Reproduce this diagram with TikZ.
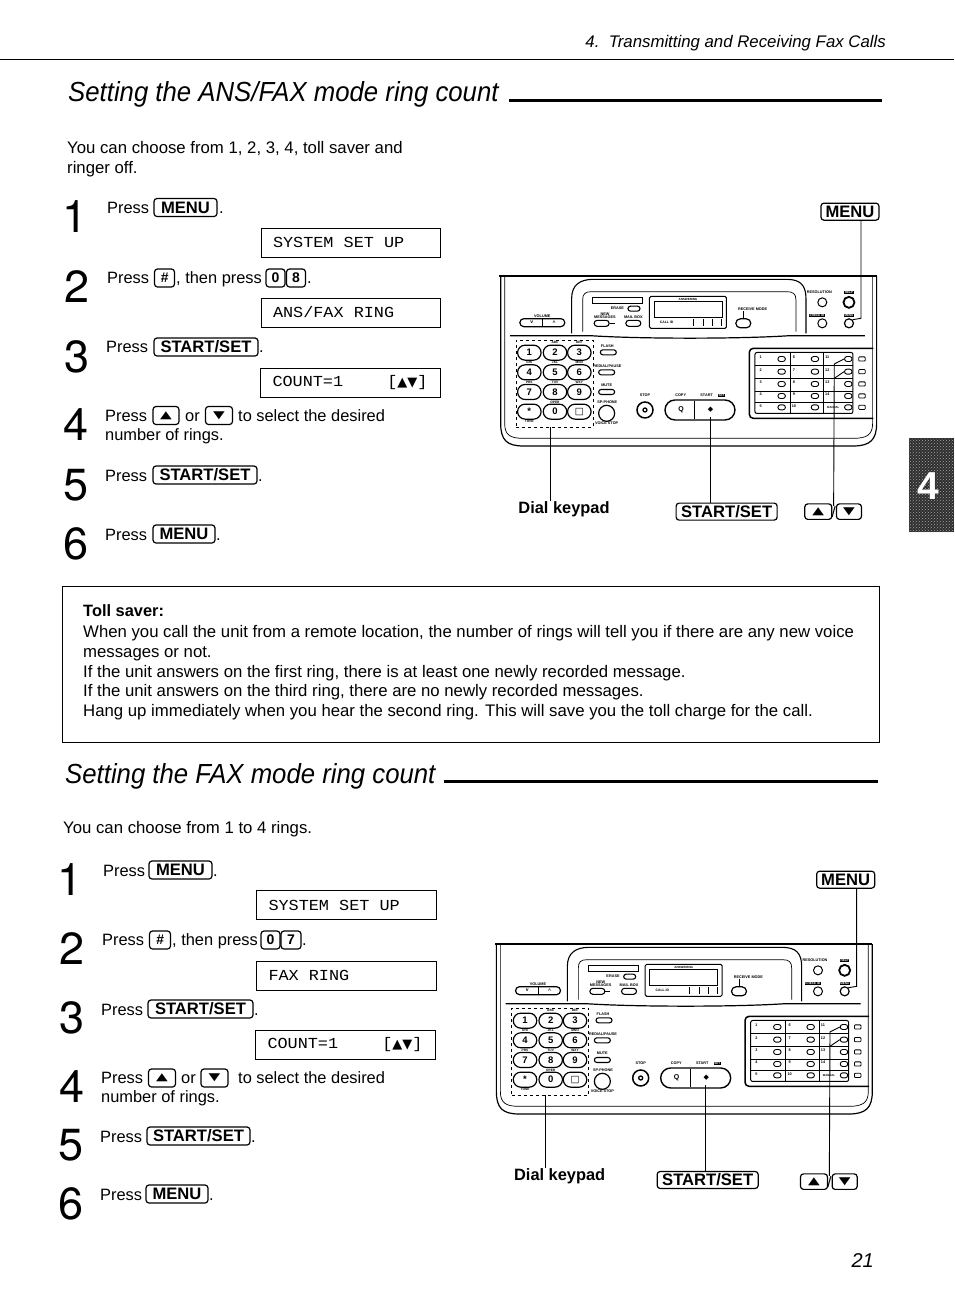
\documentclass[tikz,border=0pt]{standalone}
\usepackage{fontspec}
\setmainfont{Liberation Sans}
\newfontfamily\lcdfont[FakeStretch=1.1]{Liberation Mono}
\newfontfamily\symfont{DejaVu Sans}
\newfontfamily\heros{TeX Gyre Heros}
\newfontfamily\titlefont[FakeStretch=0.933]{Liberation Sans}
\usetikzlibrary{shapes.misc,shapes.geometric,patterns}
\newcommand{\fsz}[1]{\fontsize{#1}{#1}\selectfont}
\newcommand{\uptri}{\scalebox{1.45}[1]{\symfont\fsz{10.5}▲}}
\newcommand{\dntri}{\scalebox{1.45}[1]{\symfont\fsz{10.5}▼}}
\newcommand{\lcdsp}{\hspace{10.1pt}}
\newcommand{\lcdtri}{{\symfont\fsz{13}▲▼}}
\tikzset{
  txt/.style={anchor=base west,inner sep=0pt,font=\fsz{16.4}},
  para/.style={anchor=base west,inner sep=0pt,font=\fsz{16.75}},
  bignum/.style={inner sep=0pt,font=\heros\fsz{45}},
  keybox/.style={draw,line width=1.2pt,rounded corners=3pt,inner sep=0pt,minimum height=18pt,font=\bfseries\fsz{16.6}},
  lcdbox/.style={draw,line width=1pt,minimum height=29pt,minimum width=179pt,inner sep=0pt,text width=155pt,align=left,font=\lcdfont\fsz{15.3}},
  title/.style={anchor=base west,inner sep=0pt,font=\titlefont\itshape\fsz{27.6}},
  pill/.style={draw,rounded rectangle,inner sep=0pt,line width=1.1pt},
  numkey/.style={pill,line width=1.2pt,minimum width=23.5pt,minimum height=15pt,font=\bfseries\fsz{9.5}},
  smallpill/.style={pill,minimum width=15pt,minimum height=5pt},
  ring/.style={draw,circle,inner sep=0pt,line width=1pt},
  tiny/.style={inner sep=0pt,font=\bfseries\fsz{3.8}},
  inv/.style={fill=black,text=white,inner sep=.6pt,font=\bfseries\fsz{3}},
  lead/.style={line width=.9pt},
  biglabel/.style={draw,line width=1.2pt,rounded corners=3pt,inner sep=0pt,minimum height=17pt,font=\bfseries\fsz{16.6}},
}
% #1,#2 panel origin  #3 prefix  #4,#5 START/SET label  #6 dial label y  #7 arrow keys y
\newcommand{\faxpanel}[7]{
\begin{scope}[shift={(#1pt,-#2pt)},x=.3333pt,y=-.3333pt]
  % casing
  \draw[line width=1.2pt] (28,258)--(1160,258);
  \draw[line width=1.2pt] (32,258)--(32,700) .. controls (32,750) and (50,768) .. (100,768)--(1090,768) .. controls (1140,768) and (1160,750) .. (1160,700)--(1160,258);
  \draw[line width=.7pt] (44,258)--(44,700) .. controls (44,735) and (60,745) .. (100,745)--(1090,745) .. controls (1130,745) and (1148,735) .. (1148,700)--(1148,258);
  \draw[line width=1.2pt] (60,437)--(300,437) .. controls (450,447) and (750,447) .. (900,437)--(1125,437);
  % display hump
  \draw[line width=1.1pt] (245,430)--(245,325) .. controls (245,285) and (270,268) .. (310,268)--(890,268) .. controls (930,268) and (948,285) .. (948,325)--(948,430);
  \draw[line width=.7pt] (278,425)--(278,330) .. controls (278,312) and (285,305) .. (305,305)--(890,305) .. controls (910,305) and (918,312) .. (918,330)--(918,425);
  \node[draw,line width=.7pt,minimum width=50pt,minimum height=6pt,inner sep=0pt] (#3bar) at (382,332) {};
  % volume
  \node[tiny] (#3vollab) at (157,378) {VOLUME};
  \node[pill,line width=1.2pt,minimum width=45pt,minimum height=8pt,font=\bfseries\fsz{5}] (#3vol) at (157,398) {};
  \draw[line width=.8pt] (#3vol.north) -- (#3vol.south);
  \node[inner sep=0pt,font=\bfseries\fsz{5}] (#3vold) at (125,398) {v};
  \node[inner sep=0pt,font=\bfseries\fsz{5}] (#3volu) at (192,397) {\^{}};
  % message keys
  \node[tiny] (#3eralab) at (382,356) {ERASE};
  \node[smallpill,minimum width=12pt] (#3era) at (432,356) {};
  \node[tiny,align=center] (#3newlab) at (345,378) {NEW\\[-1pt]MESSAGES};
  \node[smallpill,minimum height=6pt] (#3new) at (335,400) {};
  \node[tiny] (#3mailab) at (430,381) {MAIL BOX};
  \node[smallpill,minimum height=6pt] (#3mai) at (430,400) {};
  \draw[line width=.6pt] (#3new.east) -- ++(15,0);
  % LCD
  \node[draw,line width=1pt,rounded corners=1.5pt,minimum width=77pt,minimum height=32pt,inner sep=0pt] (#3lcd) at (594,367) {};
  \node[draw,line width=.7pt,minimum width=68pt,minimum height=15.5pt,inner sep=0pt] (#3lcdin) at (594,358) {};
  \node[tiny,font=\bfseries\fsz{3}] (#3lcdlab) at (594,328) {ANSWERING};
  \node[tiny,font=\bfseries\fsz{3.4}] (#3call) at (530,398) {CALL ID};
  \foreach \xx in {610,640,668,695} \draw[line width=.6pt] (\xx,388)--(\xx,408);
  % receive mode
  \node[tiny] (#3rclab) at (788,358) {RECEIVE MODE};
  \node[smallpill,minimum height=9pt,line width=1.2pt] (#3rc) at (760,400) {};
  \draw[line width=.7pt] (#3rc.north) -- ++(0,-22);
  % right buttons
  \node[tiny] (#3reslab) at (988,308) {RESOLUTION};
  \node[ring,minimum size=9pt] (#3res) at (997,337) {};
  \node[inv] (#3help) at (1077,308) {HELP};
  \node[ring,line width=1.8pt,minimum size=11pt] (#3hb) at (1077,337) {};
  \node[inv] (#3chk) at (981,377) {CHECK ID};
  \node[ring,minimum size=9pt] (#3chb) at (997,400) {};
  \node[inv] (#3mnu) at (1077,377) {MENU};
  \node[ring,line width=1.2pt,minimum size=9pt] (#3mb) at (1077,400) {};
  % dial keypad
  \node[draw,dashed,line width=1pt,minimum width=77pt,minimum height=87pt,inner sep=0pt] (#3dial) at (194,581) {};
  \foreach \nm/\xx/\yy/\tx in {1/118/488/1,2/195/488/2,3/268/488/3,4/118/547/4,5/195/547/5,6/268/547/6,7/118/606/7,8/195/606/8,9/268/606/9,s/118/665/*,0/195/665/0,h/268/665/{\symfont □}}
    \node[numkey] (#3k\nm) at (\xx,\yy) {\tx};
  \foreach \xx/\yy/\tx in {195/457/ABC,268/457/DEF,118/518/GHI,195/518/JKL,268/518/MNO,118/578/PRS,195/578/TUV,268/578/WXY,195/638/OPER,118/693/TONE}
    \node[tiny,font=\bfseries\fsz{3.2}] at (\xx,\yy) {\tx};
  \node[tiny] (#3fllab) at (352,468) {FLASH};
  \node[smallpill,minimum width=16pt] (#3fl) at (355,487) {};
  \node[tiny] (#3rdlab) at (352,528) {REDIAL/PAUSE};
  \node[smallpill,minimum width=16pt] (#3rd) at (350,547) {};
  \node[tiny] (#3mtlab) at (350,587) {MUTE};
  \node[smallpill,minimum width=16pt] (#3mt) at (350,606) {};
  \node[tiny] (#3splab) at (352,636) {SP-PHONE};
  \node[ring,line width=1.2pt,minimum size=16pt] (#3sp) at (350,670) {};
  \node[tiny] (#3vslab) at (350,700) {VOICE STOP};
  % stop / copy / start
  \node[tiny] (#3stlab) at (465,617) {STOP};
  \node[ring,line width=1.5pt,minimum size=16pt] (#3stop) at (465,660) {};
  \node[ring,line width=1.3pt,minimum size=4pt] (#3stopd) at (465,660) {};
  \node[tiny] (#3cplab) at (572,617) {COPY};
  \node[tiny] (#3salab) at (650,617) {START};
  \node[inv] (#3set) at (695,617) {SET};
  \node[pill,line width=1.4pt,minimum width=70pt,minimum height=20pt] (#3big) at (630,660) {};
  \draw[line width=1pt] (615,632)--(615,688);
  \node[inner sep=0pt,font=\bfseries\fsz{7}] (#3cpk) at (573,660) {Q};
  \node[inner sep=0pt,font=\symfont\fsz{7}] (#3sak) at (662,660) {◆};
  % one-touch panel
  \draw[line width=1.5pt,rounded corners=4pt] (1150,475)--(778,475)--(778,685)--(1150,685);
  \node[draw,line width=1pt,rounded corners=2pt,minimum width=98pt,minimum height=61pt,inner sep=0pt] (#3otp) at (942,579) {};
  \draw[line width=.7pt] (900,488)--(900,670) (1000,488)--(1000,670);
  \foreach \yy in {525,565,603,637} \draw[line width=.7pt] (795,\yy)--(1090,\yy);
  \foreach \cc/\xx in {a/875,b/975,c/1075} \foreach \rr/\yy in {1/507,2/545,3/582,4/618,5/652}
    \node[pill,fill=white,line width=.9pt,minimum width=7.5pt,minimum height=5pt] (#3o\cc\rr) at (\xx,\yy) {};
  \foreach \yy/\nn in {503/1,541/2,578/3,614/4,648/5} \node[tiny] at (812,\yy) {\nn};
  \foreach \yy/\nn in {503/6,541/7,578/8,614/9,648/10} \node[tiny] at (912,\yy) {\nn};
  \foreach \yy/\nn in {503/11,541/12,578/13,614/14} \node[tiny] at (1012,\yy) {\nn};
  \foreach \rr/\yy in {1/507,2/545,3/582,4/618,5/652} \node[draw,rounded corners=.8pt,line width=.8pt,minimum width=6.5pt,minimum height=4.2pt,inner sep=0pt] (#3ic\rr) at (1116,\yy) {};
  \node[tiny,font=\bfseries\fsz{2.8}] at (1030,652) {MANUAL};
  % external labels
  \node[biglabel,minimum width=58pt] (#3lmenu) at (1080,65) {MENU};
  \node[biglabel,minimum width=101pt] (#3lstart) at (#4,#5) {START/SET};
  \node[inner sep=0pt,font=\bfseries\fsz{16.4}] (#3ldial) at (222,#6) {Dial keypad};
  \node[keybox,minimum width=27pt,minimum height=15.5pt] (#3lup) at (985,#7) {\uptri};
  \node[keybox,minimum width=25pt,minimum height=15.5pt] (#3ldn) at (1077,#7) {\dntri};
  \node[inner sep=0pt,font=\fsz{15}] (#3lsl) at (1031,#7) {/};
  \coordinate (#3a) at (1033,522);
  \coordinate (#3b) at (1033,565);
  \coordinate (#3m) at (1113,385);
  \coordinate (#3sx) at (660,680);
  \coordinate (#3dx) at (180,712);
  % leaders
  \draw[lead] (#3lmenu.south -| #3m) -- (#3m) -- (#3mb.north east);
  \draw[lead] (#3ldial.north -| #3dx) -- (#3dx);
  \draw[lead] (#3lstart.north -| #3sx) -- (#3sx);
  \draw[lead] (#3lsl.north) -- (#3a) -- (#3oc1.west);
  \draw[lead] (#3b) -- (#3oc2.west);
\end{scope}}
\begin{document}
\begin{tikzpicture}[x=1pt,y=-1pt]
\useasboundingbox (0,0) rectangle (954,1294);
% header
\draw[line width=1.6pt] (0,59.5)--(954,59.5);
\node[anchor=base east,inner sep=0pt,font=\itshape\fsz{16.8}] (hdr) at (886,47) {4.\ \ Transmitting and Receiving Fax Calls};
% section 1
\node[title] (t1) at (68,101) {Setting the ANS/FAX mode ring count};
\coordinate (t1e) at (882,100);
\draw[line width=3pt] ([xshift=10pt]t1.base east |- t1e) -- (t1e);
\node[para] (i1a) at (67,153) {You can choose from 1, 2, 3, 4, toll saver and};
\node[para] (i1b) at (67,173) {ringer off.};
\foreach \nn/\xx/\yy in {1/75/217,2/77/287,3/77/357,4/76/425,5/76/485,6/76/544} \node[bignum] (a\nn) at (\xx,\yy) {\nn};
\foreach \nm/\xx/\yy in {p1/107/213,p2/107/283,p3/106/352,p4/105/421,p5/105/481,p6/105/540}
  \node[txt] (a\nm) at (\xx,\yy) {Press};
\node[keybox,minimum width=63pt] (am1) at (185.5,207.5) {MENU};
\node[txt] at (219,213) {.};
\node[keybox,minimum width=20pt,font=\bfseries\itshape\fsz{14}] (ah) at (164.5,278) {\#};
\node[txt] at (176,283) {, then press};
\node[keybox,minimum width=19pt,font=\bfseries\fsz{14}] (a0) at (275.5,278) {0};
\node[keybox,minimum width=19pt,font=\bfseries\fsz{14}] (a8) at (296,278) {8};
\node[txt] at (307,283) {.};
\node[keybox,minimum width=104pt] (as1) at (206,347) {START/SET};
\node[txt] at (259,352) {.};
\node[keybox,minimum width=26pt] (au) at (166,415.5) {\uptri};
\node[txt] at (185,421) {or};
\node[keybox,minimum width=27pt] (ad) at (219,415.5) {\dntri};
\node[txt] at (238,421) {to select the desired};
\node[txt] at (105,440) {number of rings.};
\node[keybox,minimum width=104pt] (as2) at (205,475) {START/SET};
\node[txt] at (258,481) {.};
\node[keybox,minimum width=62pt] (am2) at (184,534) {MENU};
\node[txt] at (216,540) {.};
\node[lcdbox] (l1) at (350.5,242.5) {SYSTEM\lcdsp SET\lcdsp UP};
\node[lcdbox] (l2) at (350.5,312.5) {ANS/FAX\lcdsp RING};
\node[lcdbox,minimum width=180pt] (l3) at (350,382.5) {COUNT=1\hfill[\lcdtri]\hspace{-8pt}};
\faxpanel{490}{190}{f}{710}{965}{958}{965}
% chapter tab
\node[fill=black!82,postaction={pattern=crosshatch dots,pattern color=black!35},minimum width=45pt,minimum height=94pt,inner sep=0pt] (tab) at (931.5,485) {};
\node[inner sep=0pt,text=white,font=\bfseries\fsz{39}] (tabn) at (928,486) {4};
% toll saver box
\node[draw,line width=1pt,minimum width=817pt,minimum height=156pt,inner sep=0pt] (toll) at (470.5,664) {};
\node[para,font=\bfseries\fsz{16.4}] at (83,616) {Toll saver:};
\node[para] at (83,637) {When you call the unit from a remote location, the number of rings will tell you if there are any new voice};
\node[para] at (83,657) {messages or not.};
\node[para] at (83,677) {If the unit answers on the first ring, there is at least one newly recorded message.};
\node[para] at (83,696) {If the unit answers on the third ring, there are no newly recorded messages.};
\node[para] at (83,716) {Hang up immediately when you hear the second ring. This will save you the toll charge for the call.};
% section 2
\node[title] (t2) at (65,783) {Setting the FAX mode ring count};
\coordinate (t2e) at (878,781);
\draw[line width=3pt] ([xshift=8pt]t2.base east |- t2e) -- (t2e);
\node[para] (i2) at (63,833) {You can choose from 1 to 4 rings.};
\foreach \nn/\xx/\yy in {1/70/880,2/72/949,3/72/1018,4/72/1087,5/71/1145,6/71/1204} \node[bignum] (b\nn) at (\xx,\yy) {\nn};
\foreach \nm/\xx/\yy in {p1/103/876,p2/102/945,p3/101/1015,p4/101/1083,p5/100/1142,p6/100/1200}
  \node[txt] (b\nm) at (\xx,\yy) {Press};
\node[keybox,minimum width=63pt] (bm1) at (180.5,870) {MENU};
\node[txt] at (213,876) {.};
\node[keybox,minimum width=21pt,font=\bfseries\itshape\fsz{14}] (bh) at (160,940) {\#};
\node[txt] at (172,945) {, then press};
\node[keybox,minimum width=19pt,font=\bfseries\fsz{14}] (b0) at (270.5,940) {0};
\node[keybox,minimum width=20pt,font=\bfseries\fsz{14}] (b7) at (291,940) {7};
\node[txt] at (302,945) {.};
\node[keybox,minimum width=105pt] (bs1) at (200.5,1009) {START/SET};
\node[txt] at (254,1015) {.};
\node[keybox,minimum width=27pt] (bu) at (162,1078) {\uptri};
\node[txt] at (181,1083) {or};
\node[keybox,minimum width=27pt] (bd) at (214.5,1078) {\dntri};
\node[txt] at (238,1083) {to select the desired};
\node[txt] at (101,1102) {number of rings.};
\node[keybox,minimum width=103pt] (bs2) at (198.5,1136) {START/SET};
\node[txt] at (251,1142) {.};
\node[keybox,minimum width=62pt] (bm2) at (177,1194) {MENU};
\node[txt] at (209,1200) {.};
\node[lcdbox,minimum width=180pt] (m1) at (346,905) {SYSTEM\lcdsp SET\lcdsp UP};
\node[lcdbox,minimum width=180pt] (m2) at (346,975.5) {FAX\lcdsp RING};
\node[lcdbox,minimum width=180pt] (m3) at (345,1044.5) {COUNT=1\hfill[\lcdtri]\hspace{-8pt}};
\faxpanel{485.7}{858}{s}{666}{966}{954}{971}
% page number
\node[anchor=base east,inner sep=0pt,font=\itshape\fsz{20}] (pg) at (874,1267) {21};
\end{tikzpicture}
\end{document}
